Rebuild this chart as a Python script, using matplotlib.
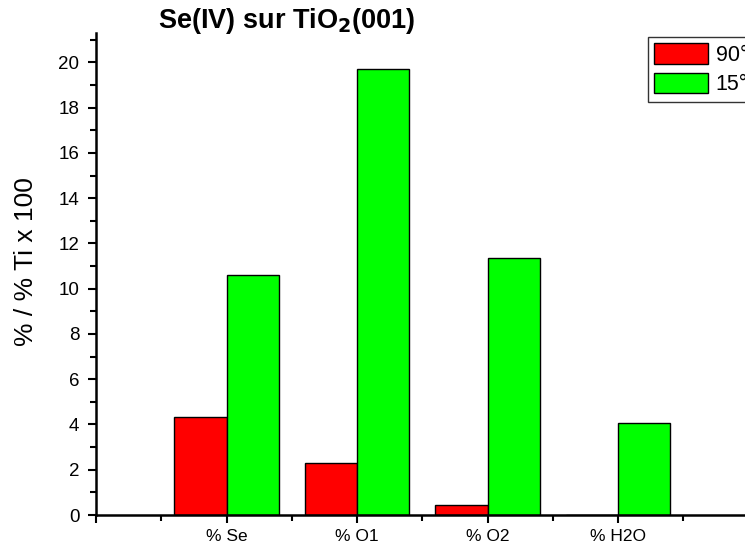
import numpy as np
import matplotlib.pyplot as plt
from matplotlib.ticker import MultipleLocator, FixedLocator, FixedFormatter

plt.rcParams['font.family'] = ['Liberation Sans', 'DejaVu Sans']

categories = ['% Se', '% O1', '% O2', '% H2O']
vals_90 = [4.35, 2.3, 0.45, 0.0]
vals_15 = [10.62, 19.73, 11.37, 4.07]
labels = ['90°', '15°']

x = np.arange(1, len(categories) + 1)
w = 0.4

fig = plt.figure(figsize=(7.45, 5.48), dpi=100)
# axes run past the right edge of the figure on purpose
ax = fig.add_axes([96 / 745, 33 / 548, 652.5 / 745, 482 / 548])

ax.bar(x - w / 2, vals_90, w, color='#FF0000', edgecolor='black', linewidth=1.0, label=labels[0])
ax.bar(x + w / 2, vals_15, w, color='#00FF00', edgecolor='black', linewidth=1.0, label=labels[1])

ax.set_xlim(0, 5)
ax.set_ylim(0, 21.3)

ax.xaxis.set_major_locator(FixedLocator([0, 1, 2, 3, 4, 5]))
ax.xaxis.set_major_formatter(FixedFormatter([''] + categories + ['']))
ax.xaxis.set_minor_locator(FixedLocator([0.5, 1.5, 2.5, 3.5, 4.5]))
ax.yaxis.set_major_locator(MultipleLocator(2))
ax.yaxis.set_minor_locator(MultipleLocator(1))

ax.tick_params(which='major', direction='out', length=6, width=1.5, labelsize=12.5, pad=4)
ax.tick_params(axis='y', which='major', labelsize=13.5, pad=6)
ax.tick_params(which='minor', direction='out', length=4, width=1.5)

for side in ['top', 'right']:
    ax.spines[side].set_visible(False)
for side in ['left', 'bottom']:
    ax.spines[side].set_linewidth(1.8)

ax.set_ylabel('% / % Ti x 100', fontsize=19)
ax.yaxis.set_label_coords(-58 / 652.5, 0.525)

fig.text(287 / 745, 1 - 21 / 548, 'Se(IV) sur TiO$_\\mathbf{2}$(001)', fontsize=19.5,
         fontweight='bold', ha='center', va='center')

leg = ax.legend(loc='upper left', bbox_to_anchor=(648 / 745, 1 - 37 / 548),
                bbox_transform=fig.transFigure, fontsize=15.5, frameon=True,
                fancybox=False, edgecolor='black', handlelength=2.5, handleheight=1.1,
                handletextpad=0.35, labelspacing=0.3, borderpad=0.3, borderaxespad=0)
leg.get_frame().set_linewidth(1.0)

fig.savefig('out.png', dpi=100)
